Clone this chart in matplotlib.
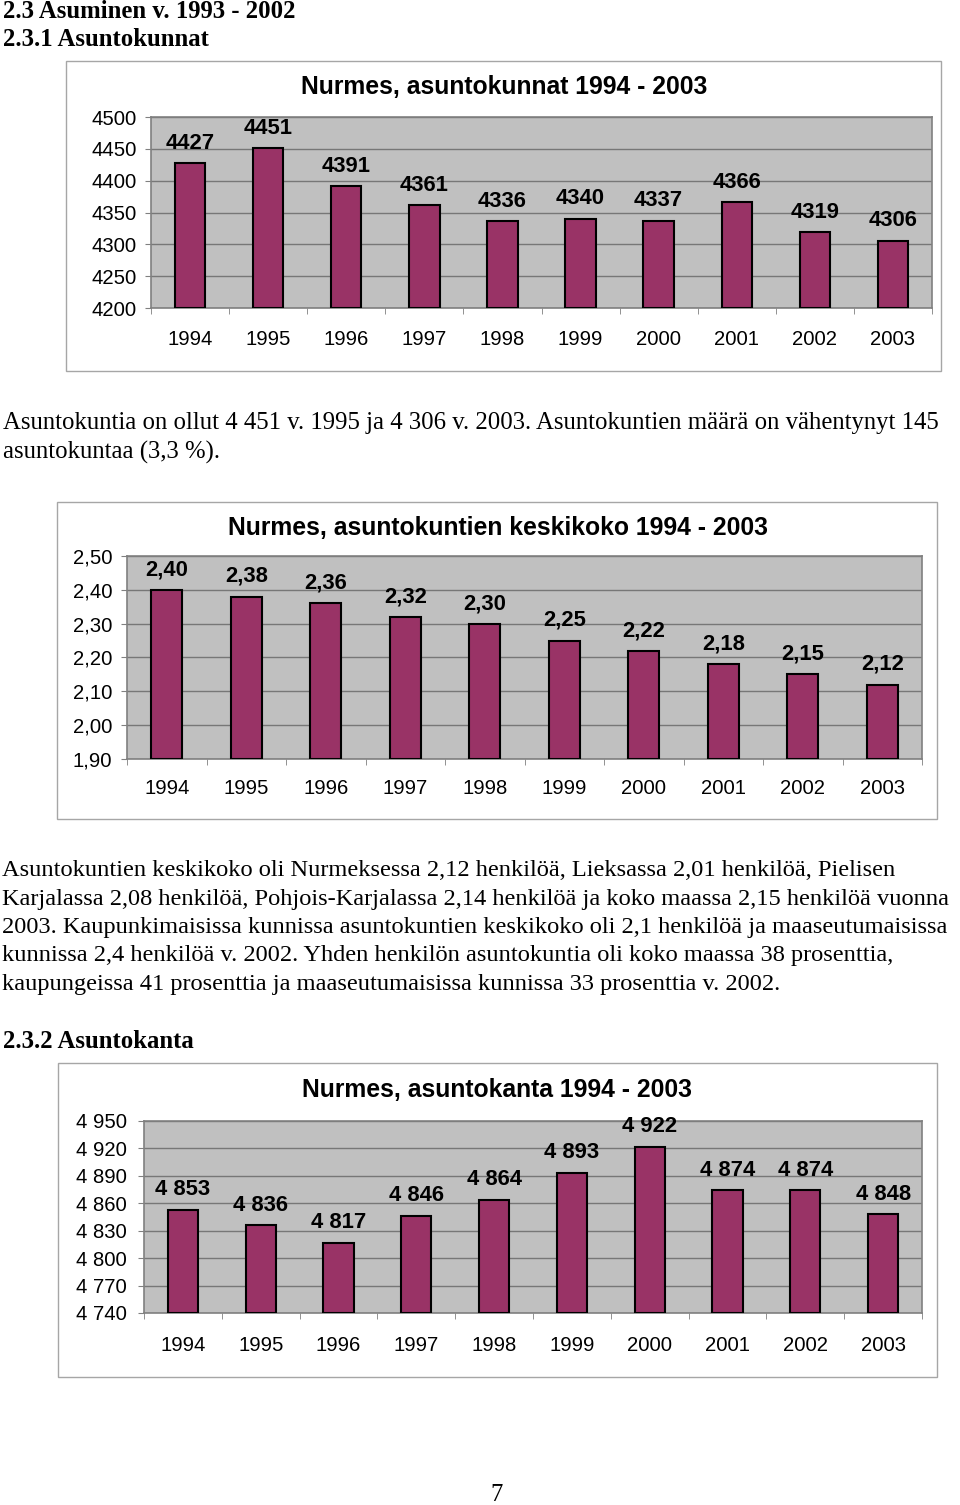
import matplotlib
matplotlib.use("Agg")
import matplotlib.pyplot as plt
from matplotlib.patches import Rectangle
from matplotlib.ticker import FixedLocator, FuncFormatter

W, H = 960, 1505

years = ["1994", "1995", "1996", "1997", "1998", "1999", "2000", "2001", "2002", "2003"]
households = [4427, 4451, 4391, 4361, 4336, 4340, 4337, 4366, 4319, 4306]
avg_size = [2.40, 2.38, 2.36, 2.32, 2.30, 2.25, 2.22, 2.18, 2.15, 2.12]
dwellings = [4853, 4836, 4817, 4846, 4864, 4893, 4922, 4874, 4874, 4848]

BAR = "#993366"
PLOT_BG = "#C0C0C0"
GRID = "#808080"
SANS = "Liberation Sans"
SERIF = "Liberation Serif"
BODY = 17.8

fig = plt.figure(figsize=(W / 100, H / 100), dpi=100)


def fx(x):
    return x / W


def fy(y):
    return 1 - y / H


def page_text(x, y, s, bold=False, ha="left", size=BODY):
    fig.text(fx(x), fy(y), s, family=SERIF, fontsize=size, style="normal",
             fontweight="bold" if bold else "normal", va="center", ha=ha)


def chart(values, plot_px, box_px, title, title_x, title_y, ylim, ystep, ylabfmt,
          datafmt, ypad, xlab_y):
    # outer frame of the embedded chart
    l, t, r, b = box_px
    fig.add_artist(Rectangle((fx(l), fy(b)), fx(r - l), (b - t) / H,
                             transform=fig.transFigure, fill=False,
                             edgecolor="#A6A6A6", linewidth=1.0))
    pl, pt, pr, pb = plot_px
    ax = fig.add_axes([fx(pl), fy(pb), fx(pr - pl), (pb - pt) / H])
    ax.set_facecolor(PLOT_BG)
    x = range(len(values))
    base = ylim[0]
    ax.bar(x, [v - base for v in values], bottom=base, width=0.39, color=BAR,
           edgecolor="black", linewidth=1.5, zorder=3)
    ax.set_xlim(-0.5, len(values) - 0.5)
    ax.set_ylim(*ylim)
    n = round((ylim[1] - ylim[0]) / ystep)
    yt = [ylim[0] + i * ystep for i in range(n + 1)]
    ax.set_yticks(yt)
    ax.yaxis.set_major_formatter(FuncFormatter(lambda v, p: ylabfmt(v)))
    ax.grid(axis="y", color="#777777", linewidth=1.0, zorder=0)
    for s in ax.spines.values():
        s.set_color(GRID)
        s.set_linewidth(1.2)
    ax.set_xticks(list(x))
    ax.set_xticklabels(years)
    ax.xaxis.set_minor_locator(FixedLocator([i - 0.5 for i in range(len(values) + 1)]))
    ax.tick_params(axis="x", which="major", length=0,
                   pad=(xlab_y - pb) * 0.72 - 5, labelsize=14.6)
    ax.tick_params(axis="x", which="minor", length=4, color=GRID, direction="out")
    ax.tick_params(axis="y", length=4, color=GRID, direction="out", pad=ypad,
                   labelsize=14.6)
    for lab in ax.get_xticklabels() + ax.get_yticklabels():
        lab.set_family(SANS)
    for i, v in enumerate(values):
        ax.annotate(datafmt(v), (i, v), xytext=(0, 14.5), textcoords="offset points",
                    ha="center", va="center", fontsize=15.8, fontweight="bold",
                    family=SANS)
    fig.text(fx(title_x), fy(title_y), title, ha="center", va="center",
             fontsize=17.8, fontweight="bold", family=SANS)
    return ax


page_text(3, 12, "2.3 Asuminen v. 1993 - 2002", bold=True)
page_text(3, 39, "2.3.1 Asuntokunnat", bold=True)

chart(households, (151, 117, 932, 308), (66, 61, 941, 371),
      "Nurmes, asuntokunnat 1994 - 2003", 504, 87, (4200, 4500), 50,
      lambda v: f"{v:.0f}", lambda v: f"{v}", 6.5, 337)

page_text(3, 423, "Asuntokuntia on ollut 4 451 v. 1995 ja 4 306 v. 2003. "
                  "Asuntokuntien määrä on vähentynyt 145")
page_text(3, 452, "asuntokuntaa (3,3 %).")

chart(avg_size, (127, 556, 922, 759), (57, 502, 937, 819),
      "Nurmes, asuntokuntien keskikoko 1994 - 2003", 498, 528, (1.90, 2.50), 0.10,
      lambda v: f"{v:.2f}".replace(".", ","), lambda v: f"{v:.2f}".replace(".", ","),
      6.5, 786)

para = [
    "Asuntokuntien keskikoko oli Nurmeksessa 2,12 henkilöä, Lieksassa 2,01 henkilöä, Pielisen",
    "Karjalassa 2,08 henkilöä, Pohjois-Karjalassa 2,14 henkilöä ja koko maassa 2,15 henkilöä vuonna",
    "2003. Kaupunkimaisissa kunnissa asuntokuntien keskikoko oli 2,1 henkilöä ja maaseutumaisissa",
    "kunnissa 2,4 henkilöä v. 2002. Yhden henkilön asuntokuntia oli koko maassa 38 prosenttia,",
    "kaupungeissa 41 prosenttia ja maaseutumaisissa kunnissa 33 prosenttia v. 2002.",
]
for i, line in enumerate(para):
    page_text(2, 871 + i * 28.3, line, size=17.55)

page_text(3, 1042, "2.3.2 Asuntokanta", bold=True)

chart(dwellings, (144, 1121, 922, 1313), (58, 1063, 937, 1377),
      "Nurmes, asuntokanta 1994 - 2003", 497, 1090, (4740, 4950), 30,
      lambda v: f"{v:,.0f}".replace(",", " "), lambda v: f"{v:,}".replace(",", " "),
      8.5, 1343)

page_text(497, 1495, "7", ha="center")

fig.savefig("out.png", dpi=100)
